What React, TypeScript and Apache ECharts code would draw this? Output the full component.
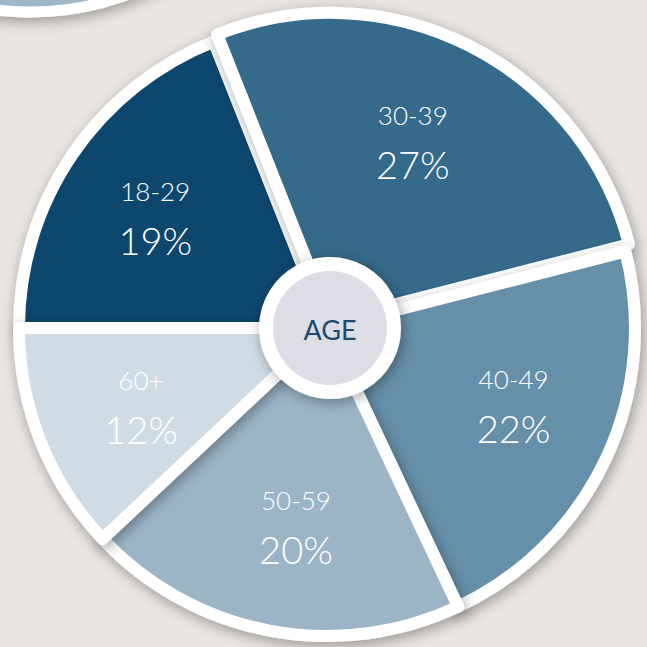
import React, { useEffect, useRef } from "react";
import * as echarts from "echarts";

const categories = ["18-29", "30-39", "40-49", "50-59", "60+"];
const values = [19, 27, 22, 20, 12];
const colors = ["#0B466D", "#356A8A", "#668FA9", "#9BB4C6", "#CFDCE5"];
const explodedCategory = "30-39";
const centerTitle = "AGE";

export default function App() {
  const ref = useRef<HTMLDivElement>(null);
  useEffect(() => {
    if (!ref.current) return;
    const chart = echarts.init(ref.current, undefined, { renderer: "svg" });
    const cx = 327;
    const cy = 328;
    const fontFamily = "Lato, 'Open Sans', sans-serif";
    const option: any = {
      animation: false,
      backgroundColor: "#E9E5E1",
      series: [
        {
          type: "pie",
          z: 1,
          silent: true,
          center: [cx, cy],
          radius: [0, 306],
          label: { show: false },
          labelLine: { show: false },
          emphasis: { disabled: true },
          itemStyle: { color: "#FFFFFF" },
          data: [{ value: 1, name: "base" }],
        },
        {
          type: "pie",
          z: 2,
          silent: true,
          center: [cx, cy],
          radius: [0, 308],
          startAngle: 180,
          clockwise: true,
          selectedMode: "multiple",
          selectedOffset: 8,
          label: { show: false },
          labelLine: { show: false },
          emphasis: { disabled: true },
          itemStyle: {
            borderColor: "#FFFFFF",
            borderWidth: 12,
            shadowBlur: 14,
            shadowColor: "rgba(0,0,0,0.35)",
            shadowOffsetX: 2,
            shadowOffsetY: 4,
          },
          data: categories.map((c, i) => ({
            name: c,
            value: values[i],
            selected: c === explodedCategory,
            itemStyle: { color: colors[i] },
          })),
        },
        {
          type: "pie",
          z: 3,
          silent: true,
          center: [cx, cy],
          radius: [92, 308],
          startAngle: 182,
          clockwise: true,
          emphasis: { disabled: true },
          itemStyle: { color: "rgba(0,0,0,0)", borderWidth: 0 },
          labelLine: { show: false },
          label: {
            show: true,
            position: "inside",
            formatter: "{a|{b}}\n{b|{c}%}",
            rich: {
              a: {
                color: "#FFFFFF",
                fontSize: 26,
                fontFamily,
                fontWeight: 300,
                lineHeight: 40,
                align: "center",
              },
              b: {
                color: "#FFFFFF",
                fontSize: 38,
                fontFamily,
                fontWeight: 300,
                lineHeight: 58,
                align: "center",
              },
            },
          },
          data: categories.map((c, i) => ({ name: c, value: values[i] })),
        },
      ],
      graphic: {
        elements: [
          {
            type: "circle",
            z: 0,
            silent: true,
            shape: { cx: 30, cy: -269, r: 281 },
            style: {
              fill: "#9DB6C8",
              stroke: "#FFFFFF",
              lineWidth: 11,
              shadowBlur: 14,
              shadowColor: "rgba(0,0,0,0.35)",
              shadowOffsetY: 4,
            },
          },
          {
            type: "circle",
            z: 100,
            silent: true,
            shape: { cx: 330, cy: 328, r: 64 },
            style: {
              fill: "#DCDDE5",
              stroke: "#FFFFFF",
              lineWidth: 14,
              shadowBlur: 14,
              shadowColor: "rgba(0,0,0,0.35)",
              shadowOffsetX: 2,
              shadowOffsetY: 3,
            },
          },
          {
            type: "text",
            z: 101,
            silent: true,
            x: 330,
            y: 329,
            style: {
              text: centerTitle,
              fill: "#1B4B71",
              fontSize: 27,
              fontFamily,
              fontWeight: 400,
              align: "center",
              verticalAlign: "middle",
            },
          },
        ],
      },
    };
    chart.setOption(option);
    return () => chart.dispose();
  }, []);
  return (
    <div
      ref={ref}
      style={{ position: "fixed", left: 0, top: 0, width: 647, height: 647 }}
    />
  );
}
